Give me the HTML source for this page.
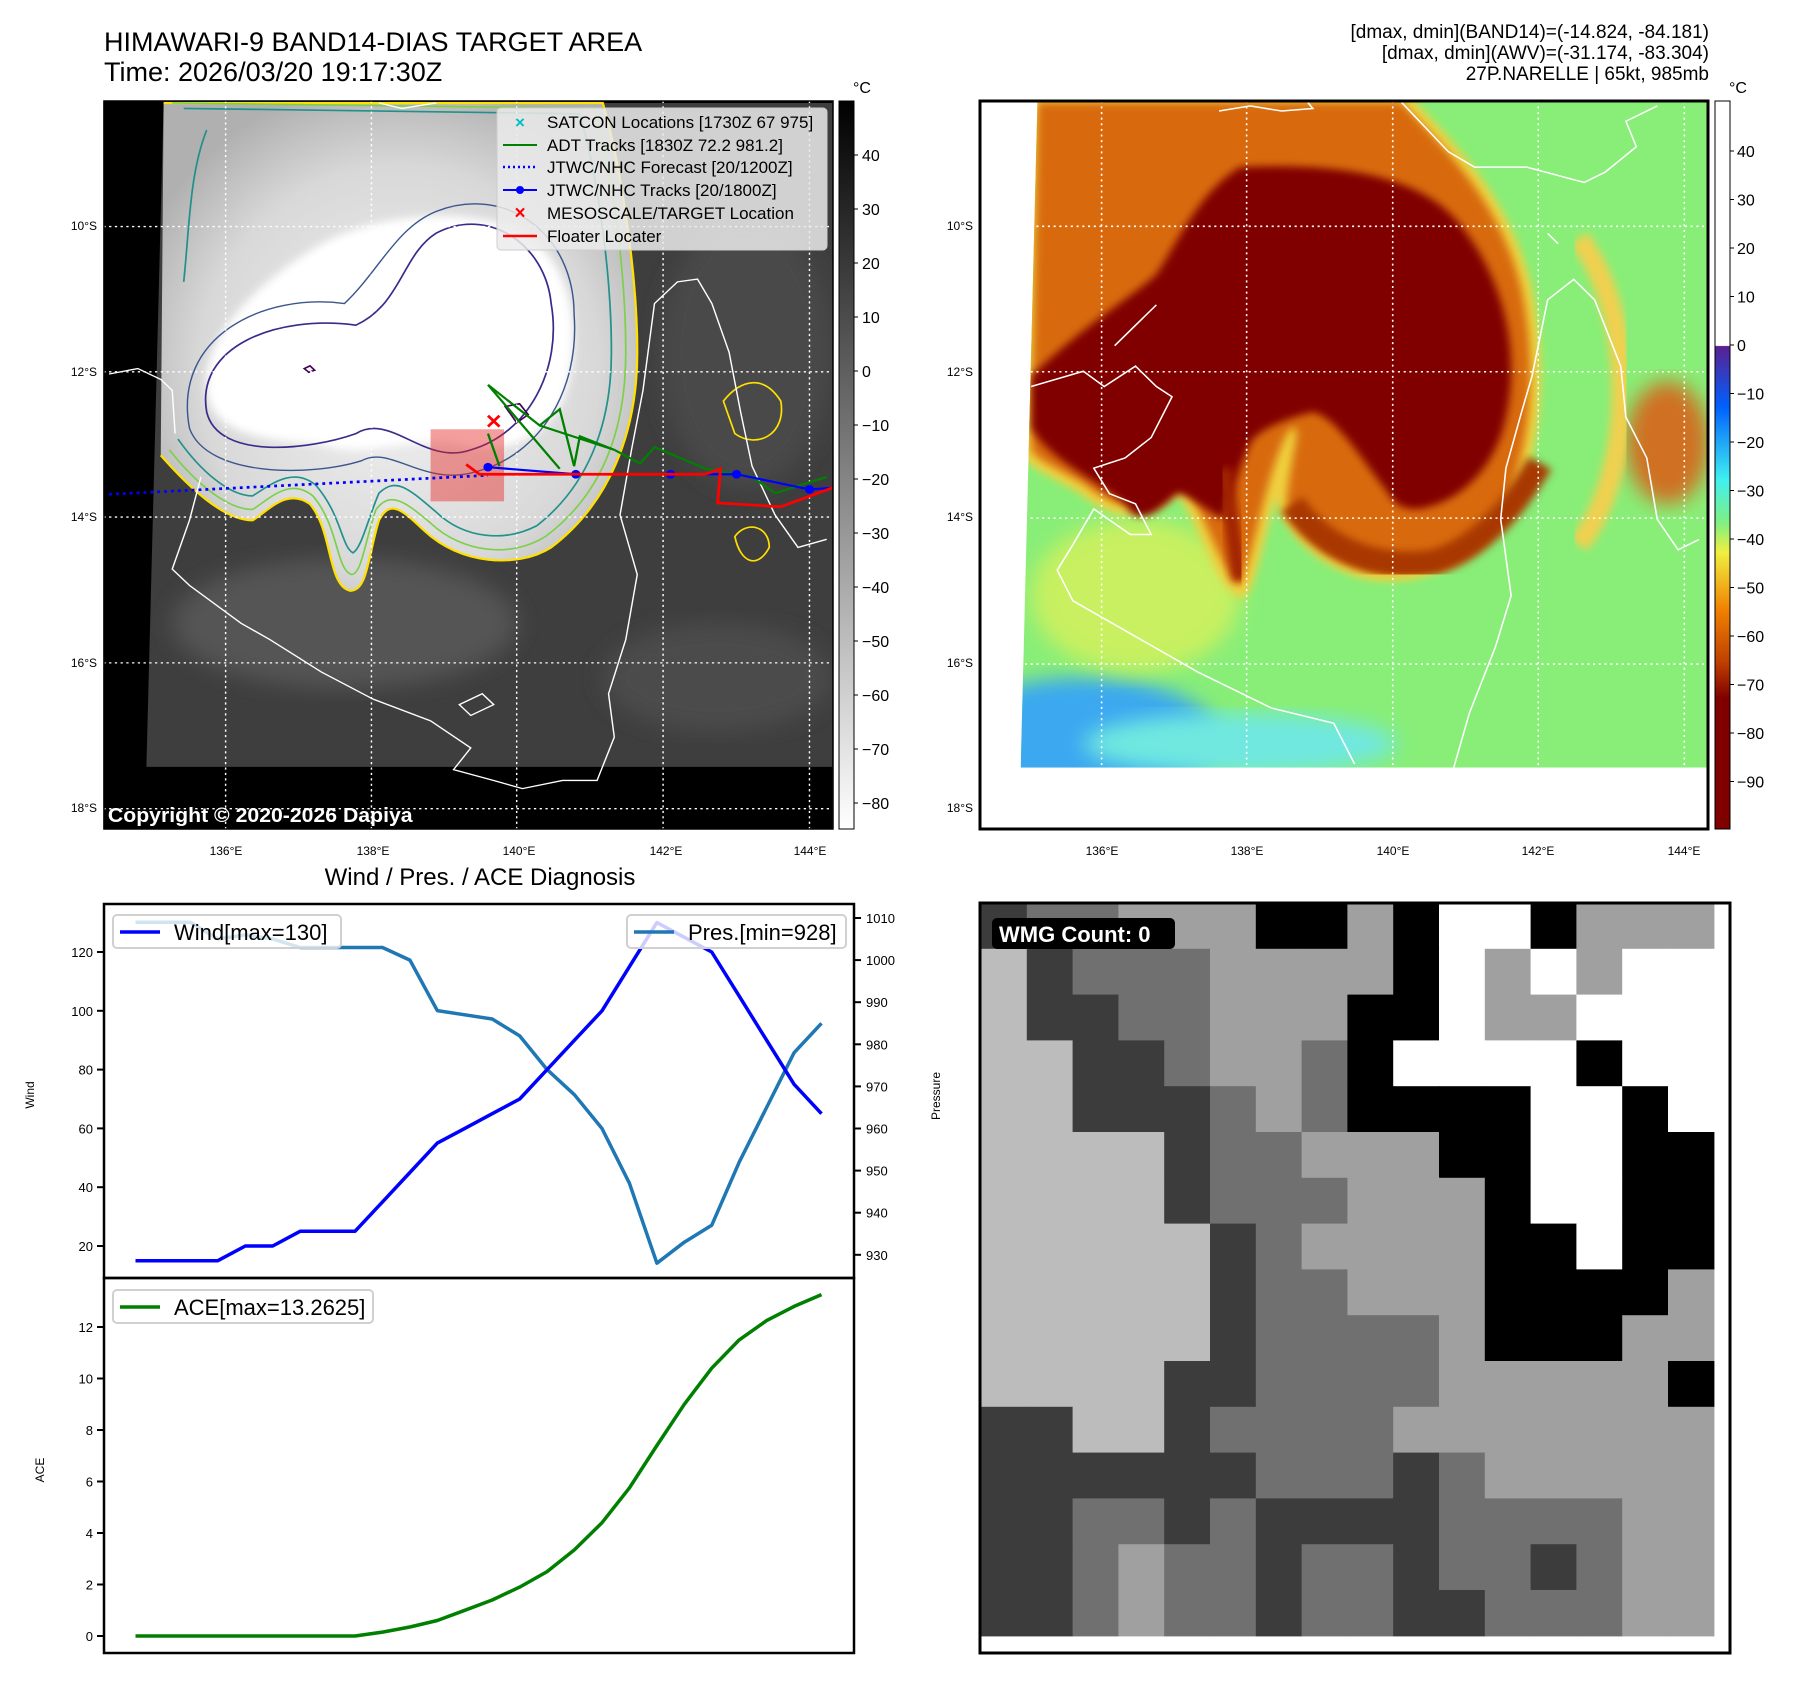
<!DOCTYPE html>
<html><head><meta charset="utf-8"><style>
html,body{margin:0;padding:0;background:#fff;}
svg{display:block;font-family:"Liberation Sans","DejaVu Sans",sans-serif;}
</style></head><body>
<svg id="fig" width="1797" height="1690" viewBox="0 0 1797 1690" xmlns="http://www.w3.org/2000/svg">
<defs>
<linearGradient id="cbGray" x1="0" y1="0" x2="0" y2="1"><stop offset="0" stop-color="#000"/><stop offset="1" stop-color="#fff"/></linearGradient>
<linearGradient id="cbJet" x1="0" y1="0" x2="0" y2="1">
<stop offset="0" stop-color="#fff"/><stop offset="0.336" stop-color="#fff"/><stop offset="0.337" stop-color="#5a2090"/>
<stop offset="0.42" stop-color="#0060ff"/><stop offset="0.52" stop-color="#40f0f0"/><stop offset="0.58" stop-color="#80f080"/>
<stop offset="0.62" stop-color="#f0f040"/><stop offset="0.70" stop-color="#f08000"/><stop offset="0.77" stop-color="#c04000"/>
<stop offset="0.82" stop-color="#800000"/><stop offset="1" stop-color="#800000"/></linearGradient>
<radialGradient id="cloudG" cx="0.5" cy="0.55" r="0.6"><stop offset="0" stop-color="#f4f4f4"/><stop offset="0.7" stop-color="#d8d8d8"/><stop offset="1" stop-color="#b0b0b0"/></radialGradient>
<filter id="blur8"><feGaussianBlur stdDeviation="8"/></filter>
<filter id="blur20"><feGaussianBlur stdDeviation="20"/></filter>
<clipPath id="clipL"><rect x="180" y="186" width="1270" height="1344"/></clipPath>
<clipPath id="clipR"><path d="M112,83 L1395,83 L1395,1387 L80,1387 Z"/></clipPath>
</defs>

<!-- headers -->
<text x="104" y="51" font-size="27">HIMAWARI-9 BAND14-DIAS TARGET AREA</text>
<text x="104" y="81" font-size="27">Time: 2026/03/20 19:17:30Z</text>
<text x="1709" y="38" font-size="19" text-anchor="end">[dmax, dmin](BAND14)=(-14.824, -84.181)</text>
<text x="1709" y="59" font-size="19" text-anchor="end">[dmax, dmin](AWV)=(-31.174, -83.304)</text>
<text x="1709" y="80" font-size="19" text-anchor="end">27P.NARELLE | 65kt, 985mb</text>

<!-- LEFT MAP -->
<g>
<g transform="scale(0.5741,0.5420)">
<rect x="180" y="186" width="1270" height="1344" fill="#000"/>
<g clip-path="url(#clipL)">
<path d="M285,190 L1450,190 L1450,1415 L255,1415 Z" fill="#3e3e3e"/>
<ellipse cx="600" cy="1150" rx="300" ry="120" fill="#555" filter="url(#blur20)"/>
<ellipse cx="1250" cy="1250" rx="200" ry="100" fill="#4c4c4c" filter="url(#blur20)"/>
<ellipse cx="1300" cy="650" rx="150" ry="250" fill="#4a4a4a" filter="url(#blur20)"/>
<path d="M285,190 L1050,190 C1080,300 1110,500 1110,650 C1110,800 1060,930 960,1010 C900,1050 800,1040 740,980 C700,940 680,920 660,960 C640,1030 640,1090 610,1090 C570,1080 580,980 540,930 C500,900 470,940 440,960 C390,960 330,900 280,840 Z" fill="url(#cloudG)"/>
<path d="M560,450 C650,400 780,380 900,420 C1000,480 1020,620 980,740 C940,820 860,840 800,820 C720,800 640,850 560,820 C450,810 370,800 360,720 C350,620 450,520 560,450 Z" fill="#fff" filter="url(#blur8)"/>
<path d="M285,190 L1050,190 C1080,300 1110,500 1110,650 C1110,800 1060,930 960,1010 C900,1050 800,1040 740,980 C700,940 680,920 660,960 C640,1030 640,1090 610,1090 C570,1080 580,980 540,930 C500,900 470,940 440,960 C390,960 330,900 280,840" fill="none" stroke="#ffe000" stroke-width="4"/>
<path d="M300,190 L1035,200 C1065,300 1090,500 1090,650 C1090,800 1045,915 950,990 C890,1030 805,1020 750,965 C705,925 680,905 655,940 C635,1000 630,1060 612,1060 C585,1050 590,970 545,915 C505,880 470,920 440,940 C395,940 340,890 295,830" fill="none" stroke="#7ed04a" stroke-width="3"/>
<path d="M320,200 L1010,210 C1040,320 1065,500 1065,650 C1065,790 1020,900 935,970 C880,1000 810,995 760,945 C710,900 690,880 660,910 C640,960 630,1010 615,1020 C595,1010 595,950 550,895 C510,860 470,895 440,915 C400,915 350,870 310,810 M320,520 C330,420 330,320 360,240" fill="none" stroke="#21918c" stroke-width="3"/>
<path d="M360,760 C340,640 480,580 620,600 C700,560 700,470 760,430 C850,380 950,450 960,560 C980,680 920,800 820,830 C740,860 680,760 620,800 C540,830 380,850 360,760 Z" fill="none" stroke="#3b2a8a" stroke-width="3"/>
<path d="M330,790 C300,620 460,540 600,560 C660,500 690,420 760,390 C880,340 1000,430 1000,580 C1010,720 940,840 830,870 C740,900 680,820 630,850 C540,880 360,880 330,790 Z" fill="none" stroke="#3a568c" stroke-width="2.5"/>
<path d="M530,680 l10,-5 l8,8 l-10,4 Z" fill="none" stroke="#440154" stroke-width="3"/>
<path d="M880,750 l25,-5 l15,20 l-20,15 Z" fill="none" stroke="#440154" stroke-width="3"/>
<path d="M1260,740 C1290,700 1330,690 1360,740 C1370,800 1320,830 1280,800 Z M1280,990 C1300,960 1340,970 1340,1010 C1320,1050 1290,1040 1280,990 Z" fill="none" stroke="#ffe000" stroke-width="3"/>
<g fill="none" stroke="#fff" stroke-width="2.5">
<path d="M190,690 L240,680 L280,700 L300,720 L305,800"/>
<path d="M350,880 L330,960 L300,1050 L330,1080 L420,1150 L470,1180 L560,1240 L650,1290 L750,1330 L820,1380 L790,1420 L860,1440 L910,1455 L980,1440 L1040,1440 L1070,1360 L1060,1280 L1090,1180 L1110,1060 L1080,950 L1100,830 L1120,720 L1140,560 L1180,520 L1215,515 L1240,560 L1270,650 L1290,760 L1310,860 L1350,950 L1390,1010 L1440,995"/>
<path d="M800,1300 L840,1280 L860,1300 L820,1320 Z M660,190 L700,200 L760,190"/>
</g>
<g stroke="#fff" stroke-width="2.5" stroke-dasharray="4,6">
<line x1="393" y1="186" x2="393" y2="1530"/><line x1="647" y1="186" x2="647" y2="1530"/><line x1="900" y1="186" x2="900" y2="1530"/><line x1="1155" y1="186" x2="1155" y2="1530"/><line x1="1410" y1="186" x2="1410" y2="1530"/>
<line x1="180" y1="418" x2="1450" y2="418"/><line x1="180" y1="686" x2="1450" y2="686"/><line x1="180" y1="954" x2="1450" y2="954"/><line x1="180" y1="1223" x2="1450" y2="1223"/><line x1="180" y1="1492" x2="1450" y2="1492"/>
</g>
<rect x="750" y="792" width="128" height="133" fill="rgba(230,40,40,0.45)"/>
<path d="M190,912 L850,877" stroke="#0000ff" stroke-width="5" stroke-dasharray="5,7" fill="none"/>
<path d="M850,710 L975,865 M850,710 L940,785 L975,755 L1000,860 L1010,805 L1070,830 L1115,855 L1140,825 L1230,865 L1310,880 L1350,910 L1440,880 M850,800 L870,860 M940,785 L1070,830" stroke="#008000" stroke-width="4" fill="none"/>
<path d="M850,862 L1003,875 L1168,875 L1283,875 L1410,903 L1450,900" stroke="#0000ff" stroke-width="4" fill="none"/>
<g fill="#0000ff"><circle cx="850" cy="862" r="8"/><circle cx="1003" cy="875" r="8"/><circle cx="1168" cy="875" r="8"/><circle cx="1283" cy="875" r="8"/><circle cx="1410" cy="903" r="8"/></g>
<path d="M812,857 L835,875 L1228,875 L1255,865 L1250,928 L1360,935 L1450,900" stroke="#ff0000" stroke-width="5" fill="none"/>
<path d="M850,767 l20,20 M870,767 l-20,20" stroke="#ff0000" stroke-width="5"/>
</g>
<text x="188" y="1517" font-size="37" font-weight="bold" fill="#fff">Copyright © 2020-2026 Dapiya</text>
</g>
<rect x="104" y="101" width="729" height="728" fill="none" stroke="#000" stroke-width="1.5"/>
<!-- legend -->
<g>
<rect x="497" y="108" width="330" height="142" rx="4" fill="rgba(235,235,235,0.85)" stroke="#ccc"/>
<text x="520" y="128" font-size="17" fill="#00c0c0" text-anchor="middle" font-weight="bold">×</text><text x="547" y="128" font-size="17">SATCON Locations [1730Z 67 975]</text>
<line x1="503" y1="145" x2="537" y2="145" stroke="#008000" stroke-width="2"/><text x="547" y="151" font-size="17">ADT Tracks [1830Z 72.2 981.2]</text>
<line x1="503" y1="167" x2="537" y2="167" stroke="#0000ff" stroke-width="2.5" stroke-dasharray="2,3"/><text x="547" y="173" font-size="17">JTWC/NHC Forecast [20/1200Z]</text>
<line x1="503" y1="190" x2="537" y2="190" stroke="#0000ff" stroke-width="2"/><circle cx="520" cy="190" r="4" fill="#0000ff"/><text x="547" y="196" font-size="17">JTWC/NHC Tracks [20/1800Z]</text>
<text x="520" y="219" font-size="19" fill="#ff0000" font-weight="bold" text-anchor="middle">×</text><text x="547" y="219" font-size="17">MESOSCALE/TARGET Location</text>
<line x1="503" y1="236" x2="537" y2="236" stroke="#ff0000" stroke-width="2.5"/><text x="547" y="242" font-size="17">Floater Locater</text>
</g>
<rect x="839" y="101" width="15" height="728" fill="url(#cbGray)" stroke="#000"/>
<text x="853" y="93" font-size="16">°C</text>

<!-- RIGHT MAP -->
<g>
<g transform="translate(979,60) scale(0.5217,0.5102)">
<rect x="0" y="80" width="1397" height="1427" fill="#fff"/>
<g clip-path="url(#clipR)">
<rect x="0" y="80" width="1400" height="1310" fill="#88ee78"/>
<ellipse cx="200" cy="1330" rx="260" ry="120" fill="#3aa8f0" filter="url(#blur20)"/>
<ellipse cx="500" cy="1340" rx="300" ry="60" fill="#70e8e0" filter="url(#blur20)"/>
<ellipse cx="300" cy="1050" rx="200" ry="150" fill="#c8f060" filter="url(#blur20)"/>
<ellipse cx="1320" cy="750" rx="80" ry="120" fill="#d07020" filter="url(#blur20)"/>
<path d="M1150,350 C1260,500 1260,800 1150,950" stroke="#f0d050" stroke-width="40" fill="none" filter="url(#blur8)"/>
<path d="M112,83 L810,83 C900,180 1000,280 1040,450 C1070,600 1060,750 1010,860 C950,960 860,1010 760,1000 C680,990 600,920 590,860 C600,760 620,720 600,720 C560,760 520,1000 500,1030 C460,1000 420,840 380,830 C300,900 250,870 200,830 C150,800 100,780 100,760 Z" fill="#f0d040" stroke="#f0d040" stroke-width="40" filter="url(#blur8)"/>
<path d="M112,83 L810,83 C900,180 1000,280 1040,450 C1070,600 1060,750 1010,860 C950,960 860,1010 760,1000 C680,990 600,920 590,860 C600,760 620,720 600,720 C560,760 520,1000 500,1030 C460,1000 420,840 380,830 C300,900 250,870 200,830 C150,800 100,780 100,760 Z" fill="#d86a08" filter="url(#blur8)"/>
<path d="M600,870 C660,960 760,1000 870,985 C960,960 1030,870 1075,790" stroke="#a83800" stroke-width="50" fill="none" filter="url(#blur8)"/>
<path d="M500,210 C700,200 850,230 920,320 C1000,420 1040,560 1010,700 C990,800 920,870 840,880 C790,880 790,850 770,830 C720,760 680,700 640,690 C600,700 540,720 520,750 C500,800 480,850 470,900 C430,880 400,850 380,850 C330,900 300,910 280,870 C220,820 130,780 100,720 L100,620 C200,520 300,460 340,420 C380,360 420,260 500,210 Z" fill="#800000" filter="url(#blur8)"/>
<path d="M470,800 L500,1020" stroke="#a02000" stroke-width="30" fill="none" filter="url(#blur8)"/>
<g fill="none" stroke="#fff" stroke-width="3">
<path d="M100,640 L200,610 L240,640 L300,600 L340,640 L370,660 L330,740 L280,780 L220,800 L250,850 L300,870 L330,930 L290,930 L220,880 L180,950 L150,1000 L180,1060 L300,1130 L420,1200 L560,1270 L680,1300 L720,1380"/>
<path d="M910,1387 L940,1280 L990,1150 L1020,1050 L1000,900 L1010,800 L1040,690 L1060,620 L1090,470 L1140,430 L1180,470 L1230,600 L1240,700 L1280,780 L1300,900 L1340,960 L1380,940"/>
<path d="M810,83 L900,180 L950,210 L1050,210 L1160,240 L1200,220 L1260,170 L1240,120 L1300,90 M460,100 L520,90 L580,100 L640,95 L630,83"/>
<path d="M260,560 L340,480 M1090,340 L1110,360 L1100,350"/>
</g>
<g stroke="#fff" stroke-width="3" stroke-dasharray="4,7">
<line x1="235" y1="80" x2="235" y2="1390"/><line x1="513" y1="80" x2="513" y2="1390"/><line x1="793" y1="80" x2="793" y2="1390"/><line x1="1072" y1="80" x2="1072" y2="1390"/><line x1="1352" y1="80" x2="1352" y2="1390"/>
<line x1="0" y1="326" x2="1400" y2="326"/><line x1="0" y1="611" x2="1400" y2="611"/><line x1="0" y1="898" x2="1400" y2="898"/><line x1="0" y1="1184" x2="1400" y2="1184"/>
</g>
</g>
</g>
</g>
<rect x="980" y="101" width="728" height="728" fill="none" stroke="#000" stroke-width="3"/>
<rect x="1715" y="101" width="15" height="728" fill="url(#cbJet)" stroke="#000"/>
<text x="1729" y="93" font-size="16">°C</text>

<g id="mapTicks" font-size="12"></g>

<!-- bottom-right WMG grid -->
<g id="wmg"></g>
<rect x="980" y="903" width="750" height="750" fill="none" stroke="#000" stroke-width="3"/>
<rect x="992" y="918" width="183" height="31" rx="5" fill="#000"/>
<text x="999" y="942" font-size="22" font-weight="bold" fill="#fff">WMG Count: 0</text>

<!-- bottom-left charts -->
<text x="480" y="885" font-size="24" text-anchor="middle">Wind / Pres. / ACE Diagnosis</text>
<g id="charts"></g>
</svg>
<script>
const NS="http://www.w3.org/2000/svg";
const windVals=[15,15,15,15,20,20,25,25,25,35,45,55,60,65,70,80,90,100,115,130,125,120,105,90,75,65];
const presVals=[1009,1009,1009,1005,1006,1005,1003,1003,1003,1003,1000,988,987,986,982,974,968,960,947,928,933,937,952,965,978,985];
const aceVals=[0,0,0,0,0,0,0,0,0,0.15,0.35,0.6,1.0,1.4,1.9,2.5,3.35,4.4,5.75,7.4,9.0,10.4,11.5,12.25,12.8,13.26];
const windTicks=[20,40,60,80,100,120];
const presTicks=[930,940,950,960,970,980,990,1000,1010];
const aceTicks=[0,2,4,6,8,10,12];
const latLabels=["10°S","12°S","14°S","16°S","18°S"];
const lonLabels=["136°E","138°E","140°E","142°E","144°E"];
const bwTicks=[40,30,20,10,0,-10,-20,-30,-40,-50,-60,-70,-80];
const jetTicks=[40,30,20,10,0,-10,-20,-30,-40,-50,-60,-70,-80,-90];
const wmgRows=["DMMLLLBBLBWWBLLL","PDMMMLLLLBWLWLWW","PDDMMLLLBBWLLWWW","PPDDMLLMBWWWWBWW","PPDDDMLMBBBBWWBW","PPPPDMMLLLBBWWBB","PPPPDMMMLLLBWWBB","PPPPPDMLLLLBBWBB","PPPPPDMMLLLBBBBL","PPPPPDMMMMLBBBLL","PPPPDDMMMMLLLLLB","DDPPDMMMMLLLLLLL","DDDDDDMMMDMLLLLL","DDMMDMDDDDMMMMLL","DDMLMMDMMDMMDMLL","DDMLMMDMMDDMMMLL"];
const wmgColors={B:"#000",W:"#fff",D:"#3c3c3c",M:"#707070",L:"#a0a0a0",P:"#bcbcbc"};

function mk(tag,attrs,parent){const e=document.createElementNS(NS,tag);for(const k in attrs)e.setAttribute(k,attrs[k]);parent.appendChild(e);return e;}
const charts=document.getElementById("charts");
const X0=104,X1=854,T1=904,B1=1278,B2=1653;
const xi=i=>135.5+i*27.44;
const yWind=v=>1246-(v-20)*2.94;
const yPres=v=>918+(1010-v)*4.21;
const yAce=v=>1636-v*25.75;

let f1=mk("rect",{x:X0,y:T1,width:X1-X0,height:B1-T1,fill:"none",stroke:"#000","stroke-width":2.5},charts);


let f2=mk("rect",{x:X0,y:B1,width:X1-X0,height:B2-B1,fill:"none",stroke:"#000","stroke-width":2.5},charts);



function ticksLeft(vals,yf,name){vals.forEach(v=>{const y=yf(v);
 const l=mk("line",{x1:X0-7,y1:y,x2:X0,y2:y,stroke:"#000","stroke-width":2},charts);
 
 
 const t=mk("text",{x:X0-11,y:y+5,"font-size":13,"text-anchor":"end"},charts);t.textContent=v;
 
 });}
ticksLeft(windTicks,yWind,"wind");
ticksLeft(aceTicks,yAce,"ace");
presTicks.forEach(v=>{const y=yPres(v);
 const l=mk("line",{x1:X1,y1:y,x2:X1+7,y2:y,stroke:"#000","stroke-width":2},charts);
 
 
 const t=mk("text",{x:X1+12,y:y+5,"font-size":13},charts);t.textContent=v;
 
 });
function rotLabel(txt,x,y,name){const t=mk("text",{x:x,y:y,"font-size":12,"text-anchor":"middle",transform:`rotate(-90 ${x} ${y})`},charts);t.textContent=txt;
 
 }
rotLabel("Wind",34,1095,"wind-axis-title");
rotLabel("Pressure",940,1096,"pressure-axis-title");
rotLabel("ACE",44,1470,"ace-axis-title");

function series(vals,yf,color,name){const d=vals.map((v,i)=>(i?"L":"M")+xi(i).toFixed(1)+","+yf(v).toFixed(1)).join(" ");
 const p=mk("path",{d:d,fill:"none",stroke:color,"stroke-width":3.5,"stroke-linejoin":"round"},charts);
 
 }
series(presVals,yPres,"#1f77b4","pressure-line");
series(windVals,yWind,"#0000ff","wind-line");
series(aceVals,yAce,"#008000","ace-line");

function legend(x,y,w,color,label,name){const g=mk("g",{},charts);
 
 
 mk("rect",{x:x,y:y,width:w,height:33,rx:4,fill:"rgba(255,255,255,0.8)",stroke:"#d0d0d0","stroke-width":2},g);
 mk("line",{x1:x+7,y1:y+17,x2:x+47,y2:y+17,stroke:color,"stroke-width":3.5},g);
 const t=mk("text",{x:x+61,y:y+25,"font-size":22},g);t.textContent=label;}
legend(113,915,228,"#0000ff","Wind[max=130]","wind-legend");
legend(627,915,219,"#1f77b4","Pres.[min=928]","pressure-legend");
legend(113,1290,260,"#008000","ACE[max=13.2625]","ace-legend");

const mt=document.getElementById("mapTicks");
const latY=[226,372,517,663,808];
const lonXL=[226,373,519,666,810], lonXR=[1102,1247,1393,1538,1684];
latLabels.forEach((s,i)=>{[[97,"lat-label-left"],[973,"lat-label-right"]].forEach(([x,n])=>{
 const t=mk("text",{x:x,y:latY[i]+4,"text-anchor":"end","font-size":12},mt);t.textContent=s;
 
 });});
lonLabels.forEach((s,i)=>{[[lonXL[i],"lon-label-left"],[lonXR[i],"lon-label-right"]].forEach(([x,n])=>{
 const t=mk("text",{x:x,y:855,"text-anchor":"middle","font-size":12},mt);t.textContent=s;
 
 });});
bwTicks.forEach(v=>{const y=155+(40-v)*5.4;
 mk("line",{x1:854,y1:y,x2:858,y2:y,stroke:"#000"},mt);
 const t=mk("text",{x:862,y:y+6,"font-size":16},mt);t.textContent=(v<0?"\u2212"+(-v):v);
 
 });
jetTicks.forEach(v=>{const y=151+(40-v)*4.85;
 mk("line",{x1:1730,y1:y,x2:1734,y2:y,stroke:"#000"},mt);
 const t=mk("text",{x:1737,y:y+6,"font-size":16},mt);t.textContent=(v<0?"\u2212"+(-v):v);
 
 });

const wg=document.getElementById("wmg");
const cs=45.8;
wmgRows.forEach((row,r)=>{row.split("").forEach((c,k)=>{
 const e=mk("rect",{x:(981+k*cs).toFixed(1),y:(903+r*cs).toFixed(1),width:(cs+0.6).toFixed(1),height:(cs+0.6).toFixed(1),fill:wmgColors[c]},wg);
 
 });});
</script>
</body></html>
